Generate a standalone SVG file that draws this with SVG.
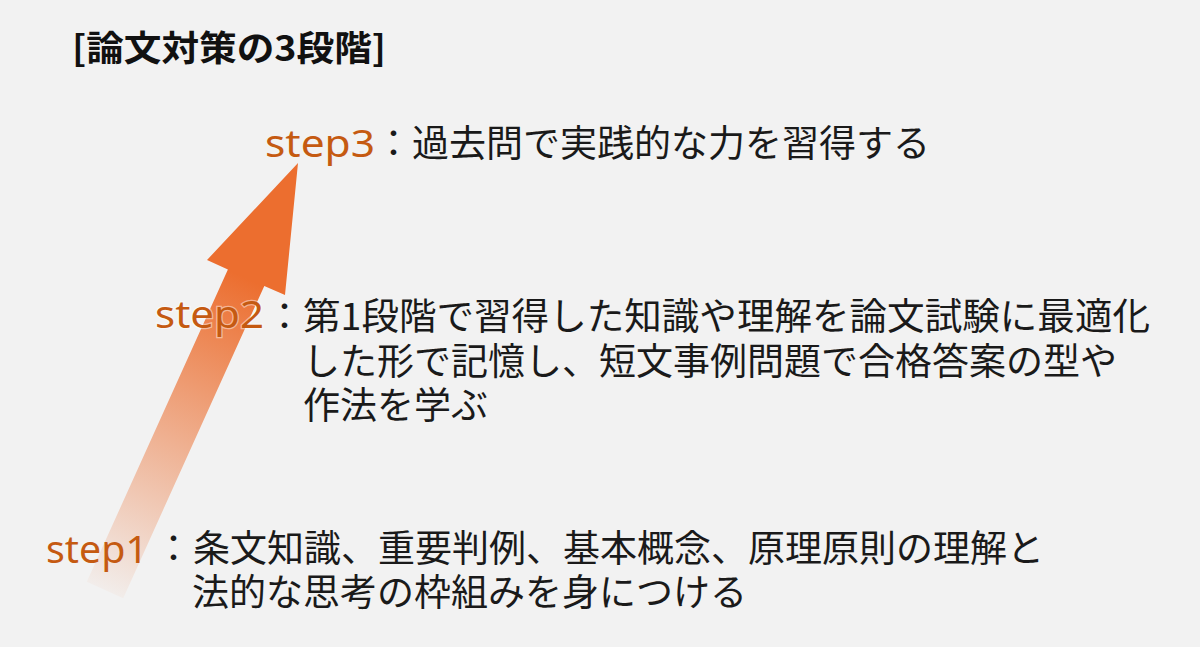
<svg xmlns="http://www.w3.org/2000/svg" width="1200" height="647" viewBox="0 0 1200 647">
  <style>
    .jp { font-family: "Noto Sans CJK JP", "Noto Sans", sans-serif; font-size: 37px; fill: #1a1a1a; }
    .title { font-family: "Noto Sans CJK JP", "Noto Sans", sans-serif; font-size: 35px; font-weight: 700; fill: #111111; }
    .lbl { font-family: "Noto Sans", "Noto Sans CJK JP", sans-serif; font-size: 39px; fill: #C55A11; }
  </style>
  <defs>
    <linearGradient id="arrowGrad" gradientUnits="userSpaceOnUse" x1="105" y1="590" x2="250" y2="280">
      <stop offset="0" stop-color="#EC6E2F" stop-opacity="0.04"/>
      <stop offset="1" stop-color="#EC6E2F" stop-opacity="1"/>
    </linearGradient>
  </defs>
  <rect x="0" y="0" width="1200" height="647" fill="#f2f2f2"/>

  <g id="connectors">
    <polygon points="298,163 285,295 264.3,286 123.2,598.2 86.8,581.8 227.9,269.6 207,260" fill="url(#arrowGrad)"/>
  </g>

  <g id="title">
    <text class="title" x="72" y="61" textLength="314" lengthAdjust="spacingAndGlyphs">[論文対策の3段階]</text>
  </g>

  <g id="step3">
    <text class="lbl" x="265" y="157" textLength="110" lengthAdjust="spacingAndGlyphs">step3</text>
    <text class="jp" x="375" y="157">：過去問で実践的な力を習得する</text>
  </g>

  <g id="step2">
    <text class="lbl" x="155" y="328" textLength="109" lengthAdjust="spacingAndGlyphs" stroke="#ffffff" stroke-opacity="0.45" stroke-width="2.5" paint-order="stroke">step2</text>
    <text class="jp" x="266" y="330">：</text>
    <text class="jp" x="303" y="330" textLength="847" lengthAdjust="spacingAndGlyphs">第1段階で習得した知識や理解を論文試験に最適化</text>
    <text class="jp" x="303" y="375">した形で記憶し、短文事例問題で合格答案の型や</text>
    <text class="jp" x="303" y="419">作法を学ぶ</text>
  </g>

  <g id="step1">
    <text class="lbl" x="46" y="563" textLength="102" lengthAdjust="spacingAndGlyphs">step1</text>
    <text class="jp" x="155" y="562">：</text>
    <text class="jp" x="193" y="562">条文知識、重要判例、基本概念、原理原則の理解と</text>
    <text class="jp" x="192" y="606">法的な思考の枠組みを身につける</text>
  </g>
</svg>
